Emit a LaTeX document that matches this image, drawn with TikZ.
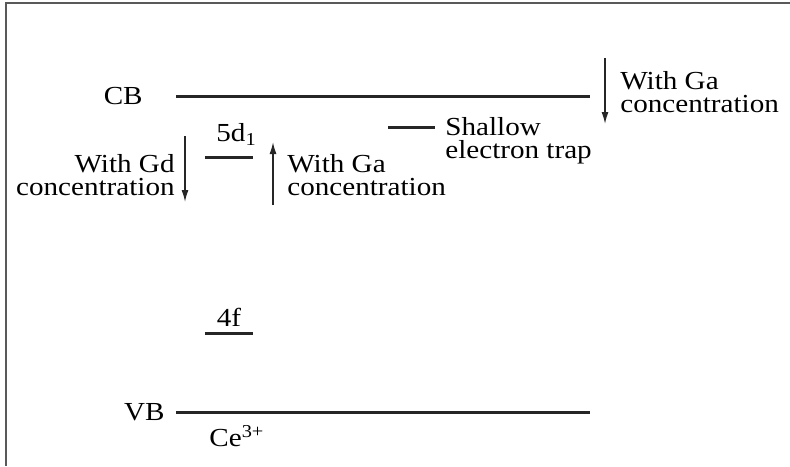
\documentclass[tikz,border=0pt]{standalone}
\usepackage{fontspec}
\setmainfont{Liberation Serif}[FakeStretch=1.12]
\usetikzlibrary{arrows.meta, positioning}

\begin{document}
\begin{tikzpicture}[
x=0.5pt, y=-0.5pt,
level/.style={line width=1.5pt, black!85},
lbl/.style={font=\fontsize{13}{11.75}\selectfont, inner sep=0pt},
txt/.style={lbl, align=left},
shiftarrow/.style={-{Latex[length=6pt,width=3.5pt]}, line width=0.75pt, black!85}
]
\useasboundingbox (0,0) rectangle (790,466);

% Frame (cut off at right and bottom)
\draw[black!65, line width=1pt] (790,3) -- (5.5,3) -- (5.5,466);

% Band edges
\coordinate (cbL) at (176,96);
\coordinate (cbR) at (590,96);
\coordinate (vbL) at (176,412);
\coordinate (vbR) at (590,412);
\draw[level] (cbL) -- (cbR);
\draw[level] (vbL) -- (vbR);
\node[lbl, left=16.5pt of cbL] (cb) {CB};
\node[lbl, left=5.5pt of vbL] (vb) {VB};
\node[lbl, below right=6.5pt and 16.5pt of vbL] (ce) {Ce\textsuperscript{3+}};

% Ce levels
\coordinate (dL) at (205,157);
\coordinate (dR) at (253,157);
\coordinate (fL) at (205,333);
\coordinate (fR) at (253,333);
\coordinate (fM) at (229,333);
\draw[level] (dL) -- (dR);
\draw[level] (fL) -- (fR);
\node[lbl, above right=5.5pt and 5.5pt of dL] (d5) {5d\textsubscript{1}};
\node[lbl, above=3pt of fM] (f4) {4f};

% Trap level
\coordinate (tL) at (388,127);
\coordinate (tR) at (435,127);
\draw[level] (tL) -- (tR);
\node[txt, anchor=north west] (trap) at (445,117) {Shallow\\electron trap};

% Shifts
\coordinate (gdA) at (185,136);
\coordinate (gdB) at (185,202);
\draw[shiftarrow] (gdA) -- (gdB);
\node[txt, align=right, anchor=north east] (gd) at (175,154) {With Gd\\concentration};

\coordinate (gaA) at (273,205);
\coordinate (gaB) at (273,142);
\draw[shiftarrow] (gaA) -- (gaB);
\node[txt, anchor=north west] (ga) at (287,154) {With Ga\\concentration};

\coordinate (cbA) at (605,58);
\coordinate (cbB) at (605,124);
\draw[shiftarrow] (cbA) -- (cbB);
\node[txt, anchor=north west] (gacb) at (620,71) {With Ga\\concentration};

\end{tikzpicture}
\end{document}
